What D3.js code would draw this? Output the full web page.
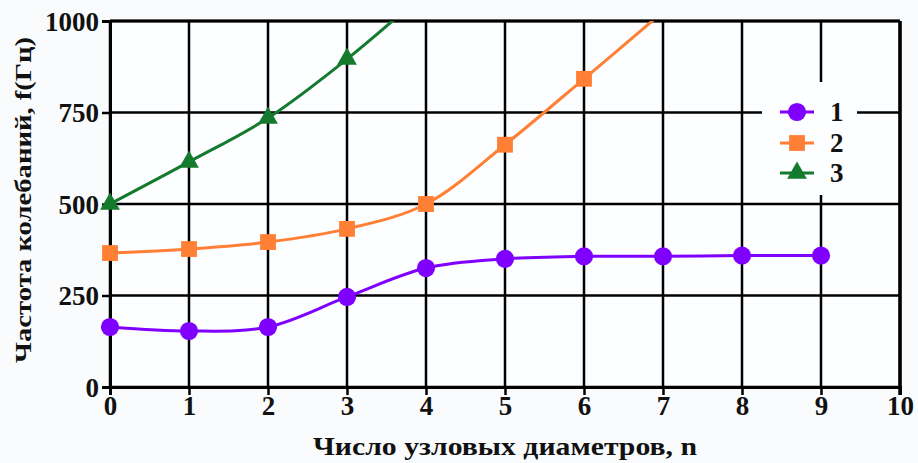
<!DOCTYPE html>
<html>
<head>
<meta charset="utf-8">
<script src="https://cdn.jsdelivr.net/npm/d3@7"></script>
<style>
  body { margin: 0; background: #f9fbfd; }
  svg { display: block; }
  text { font-family: "Liberation Serif", "Times New Roman", serif; font-weight: bold; fill: #111; }
</style>
</head>
<body>
<div id="canvas"></div>
<script>
// data
var nodes = [0, 1, 2, 3, 4, 5, 6, 7, 8, 9];
var series1 = [164, 153, 164, 246, 325, 350, 357, 357, 359, 359];
var series2 = [366, 377, 396, 432, 500, 662, 842, 1025];
var series3 = [500, 615, 735, 896, 1080];
var xTicks = [0, 1, 2, 3, 4, 5, 6, 7, 8, 9, 10];
var yTicks = [0, 250, 500, 750, 1000];
var legendLabels = ['1', '2', '3'];

var W = 918, H = 463;
var m = {t: 21, r: 18, b: 76, l: 110},
    w = W - m.l - m.r,
    h = H - m.t - m.b;

var svg = d3.select('#canvas').append('svg')
    .attr('width', W).attr('height', H);

var plot = svg.append('g')
    .attr('transform', 'translate(' + m.l + ',' + m.t + ')');

var x = d3.scaleLinear().domain([0, 10]).range([0, w]);
var y = d3.scaleLinear().domain([0, 1000]).range([h, 0]);

plot.append('rect').attr('width', w).attr('height', h).style('fill', '#fdfeff');

plot.append('clipPath').attr('id', 'clip')
  .append('rect').attr('width', w).attr('height', h);

// grid
plot.selectAll('.vgrid').data(xTicks).enter().append('line')
    .attr('x1', d => x(d)).attr('x2', d => x(d))
    .attr('y1', 0).attr('y2', h)
    .style('stroke', '#000').style('stroke-width', 2.5);
plot.selectAll('.hgrid').data(yTicks).enter().append('line')
    .attr('x1', 0).attr('x2', w)
    .attr('y1', d => y(d)).attr('y2', d => y(d))
    .style('stroke', '#000').style('stroke-width', 2.5);

// axes
var xAxis = plot.append('g').attr('transform', 'translate(0,' + h + ')')
    .call(d3.axisBottom(x).tickValues(xTicks).tickSize(8).tickPadding(2).tickFormat(d3.format('d')));
var yAxis = plot.append('g')
    .call(d3.axisLeft(y).tickValues(yTicks).tickSize(8).tickPadding(3).tickFormat(d3.format('d')));
[xAxis, yAxis].forEach(function(a) {
  a.select('.domain').style('stroke', '#000').style('stroke-width', 3);
  a.selectAll('.tick line').style('stroke', '#000').style('stroke-width', 2.5);
  a.selectAll('.tick text').style('font-size', '27px')
    .style('font-family', '"Liberation Serif", serif').style('font-weight', 'bold').style('fill', '#111');
});
yAxis.selectAll('.tick text').attr('dy', '0.34em');
xAxis.selectAll('.tick text').attr('dy', '0.68em');

// right and top border a bit heavier
plot.append('line').attr('x1', w).attr('x2', w).attr('y1', 0).attr('y2', h + 8)
    .style('stroke', '#000').style('stroke-width', 3.5);
plot.append('line').attr('x1', 0).attr('x2', w).attr('y1', 0).attr('y2', 0)
    .style('stroke', '#000').style('stroke-width', 3);

var seriesList = [
  {name: '1', values: series1, color: '#8000ff', shape: d3.symbolCircle, size: 260},
  {name: '2', values: series2, color: '#ff7f35', shape: d3.symbolSquare, size: 250},
  {name: '3', values: series3, color: '#137a2e', shape: d3.symbolTriangle, size: 170}
];

var line = d3.line()
    .x((d, i) => x(nodes[i]))
    .y(d => y(d))
    .curve(d3.curveCatmullRom.alpha(0.5));

var dataG = plot.append('g').attr('clip-path', 'url(#clip)');

seriesList.forEach(function(s) {
  dataG.append('path')
    .attr('d', line(s.values))
    .style('fill', 'none')
    .style('stroke', s.color)
    .style('stroke-width', 3);
});

plot.append('clipPath').attr('id', 'clip2')
  .append('rect').attr('x', -12).attr('y', 0).attr('width', w + 24).attr('height', h + 12);
var markG = plot.append('g').attr('clip-path', 'url(#clip2)');

seriesList.forEach(function(s) {
  markG.selectAll(null).data(s.values).enter().append('path')
    .attr('transform', (d, i) => 'translate(' + x(nodes[i]) + ',' + y(d) + ')')
    .attr('d', d3.symbol().type(s.shape).size(s.size))
    .style('fill', s.color);
});

// legend
var legend = svg.append('g').attr('transform', 'translate(762,82)');
legend.append('rect').attr('width', 95).attr('height', 113).style('fill', '#fdfeff');
var rows = legend.selectAll('.row').data(seriesList).enter().append('g')
    .attr('transform', (d, i) => 'translate(0,' + [30, 61, 91][i] + ')');
rows.append('line').attr('x1', 18).attr('x2', 52)
    .style('stroke', d => d.color).style('stroke-width', 3);
rows.append('path')
    .attr('transform', 'translate(35,0)')
    .attr('d', d => d3.symbol().type(d.shape).size(d.size)())
    .style('fill', d => d.color);
rows.append('text').attr('x', 68).attr('dy', '0.34em')
    .style('font-size', '27px')
    .text((d, i) => legendLabels[i]);

// axis titles
svg.append('text')
    .attr('x', 505).attr('y', 455)
    .attr('text-anchor', 'middle')
    .attr('textLength', 384).attr('lengthAdjust', 'spacingAndGlyphs')
    .style('font-size', '25px')
    .text('Число узловых диаметров, n');

svg.append('text')
    .attr('transform', 'translate(31,200) rotate(-90)')
    .attr('text-anchor', 'middle')
    .attr('textLength', 326).attr('lengthAdjust', 'spacingAndGlyphs')
    .style('font-size', '24px')
    .text('Частота колебаний, f(Гц)');
</script>
</body>
</html>
